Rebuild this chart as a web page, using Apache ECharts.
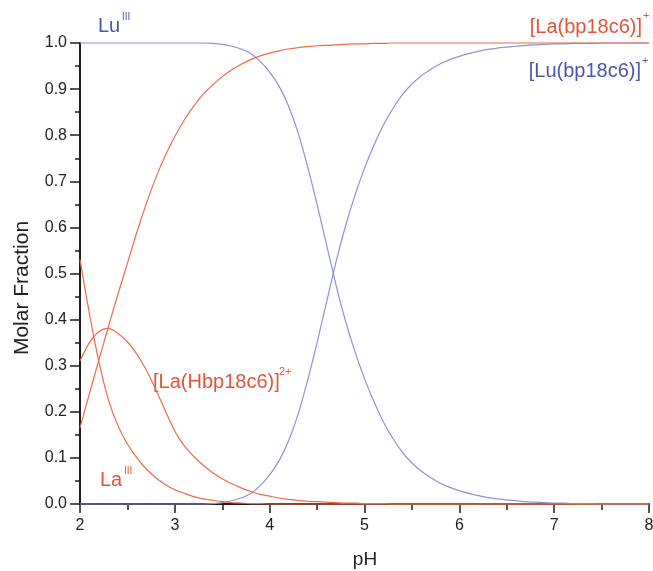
<!DOCTYPE html>
<html>
<head>
<meta charset="utf-8">
<script src="https://cdn.jsdelivr.net/npm/echarts@6/dist/echarts.min.js"></script>
<style>
  html, body { margin: 0; padding: 0; background: #fff; }
  #container { width: 653px; height: 571px; }
</style>
</head>
<body>
<div id="container"></div>
<script>
// pH grid, 0.1 steps
const ph = [2.0, 2.1, 2.2, 2.3, 2.4, 2.5, 2.6, 2.7, 2.8, 2.9,
  3.0, 3.1, 3.2, 3.3, 3.4, 3.5, 3.6, 3.7, 3.8, 3.9,
  4.0, 4.1, 4.2, 4.3, 4.4, 4.5, 4.6, 4.7, 4.8, 4.9,
  5.0, 5.1, 5.2, 5.3, 5.4, 5.5, 5.6, 5.7, 5.8, 5.9,
  6.0, 6.1, 6.2, 6.3, 6.4, 6.5, 6.6, 6.7, 6.8, 6.9,
  7.0, 7.1, 7.2, 7.3, 7.4, 7.5, 7.6, 7.7, 7.8, 7.9, 8.0]

// molar fractions
const luFree = [1, 1, 1, 1, 1, 1, 1, 1, 1, 1,
  1, 1, 1, 1, 0.999, 0.997, 0.993, 0.987, 0.977, 0.960,
  0.937, 0.906, 0.863, 0.805, 0.732, 0.650, 0.562, 0.475, 0.397, 0.330,
  0.272, 0.222, 0.178, 0.142, 0.112, 0.089, 0.071, 0.057, 0.045, 0.036,
  0.029, 0.023, 0.018, 0.014, 0.011, 0.009, 0.007, 0.005, 0.004, 0.003,
  0.002, 0.002, 0.001, 0.001, 0.001, 0, 0, 0, 0, 0, 0]

const luComplex = [0, 0, 0, 0, 0, 0, 0, 0, 0, 0,
  0, 0, 0, 0, 0.001, 0.003, 0.007, 0.013, 0.023, 0.040,
  0.063, 0.094, 0.137, 0.195, 0.268, 0.350, 0.438, 0.525, 0.603, 0.670,
  0.728, 0.778, 0.822, 0.858, 0.888, 0.911, 0.929, 0.943, 0.955, 0.964,
  0.971, 0.977, 0.982, 0.986, 0.989, 0.991, 0.993, 0.995, 0.996, 0.997,
  0.998, 0.998, 0.999, 0.999, 0.999, 1, 1, 1, 1, 1, 1]

const laFree = [0.530, 0.412, 0.308, 0.226, 0.170, 0.130, 0.100, 0.076, 0.057, 0.042,
  0.031, 0.023, 0.016, 0.011, 0.008, 0.005, 0.003, 0.002, 0.001, 0.001,
  0, 0, 0, 0, 0, 0, 0, 0, 0, 0,
  0, 0, 0, 0, 0, 0, 0, 0, 0, 0,
  0, 0, 0, 0, 0, 0, 0, 0, 0, 0,
  0, 0, 0, 0, 0, 0, 0, 0, 0, 0, 0]

const laProtonated = [0.310, 0.350, 0.374, 0.381, 0.370, 0.352, 0.325, 0.290, 0.248, 0.202,
  0.158, 0.126, 0.103, 0.084, 0.068, 0.055, 0.044, 0.035, 0.027, 0.021,
  0.017, 0.013, 0.010, 0.008, 0.006, 0.005, 0.004, 0.003, 0.002, 0.002,
  0.001, 0.001, 0.001, 0, 0, 0, 0, 0, 0, 0,
  0, 0, 0, 0, 0, 0, 0, 0, 0, 0,
  0, 0, 0, 0, 0, 0, 0, 0, 0, 0, 0]

const laComplex = [0.165, 0.240, 0.313, 0.385, 0.455, 0.522, 0.590, 0.652, 0.708, 0.756,
  0.797, 0.833, 0.863, 0.889, 0.909, 0.927, 0.942, 0.954, 0.964, 0.972,
  0.978, 0.983, 0.987, 0.990, 0.992, 0.994, 0.995, 0.996, 0.997, 0.998,
  0.998, 0.999, 0.999, 1, 1, 1, 1, 1, 1, 1,
  1, 1, 1, 1, 1, 1, 1, 1, 1, 1,
  1, 1, 1, 1, 1, 1, 1, 1, 1, 1, 1]

const RED = '#f06a4a'
const BLUE = '#8e92d6'
const RED_TXT = '#e2553a'
const BLUE_TXT = '#4c56a8'
const FONT = '"Liberation Sans", Arial, sans-serif'

const pairs = ys => ph.map((x, i) => [x, ys[i]])

const curve = (name, ys, color) => ({
  name: name,
  type: 'line',
  data: pairs(ys),
  showSymbol: false,
  smooth: 0.3,
  clip: false,
  lineStyle: { color: color, width: 1.2 },
  silent: true
})

const label = (text, x, y, size, color, align) => ({
  type: 'text',
  silent: true,
  style: {
    text: text,
    x: x,
    y: y,
    fill: color,
    font: size + 'px ' + FONT,
    align: align || 'left',
    verticalAlign: 'middle'
  }
})

const axisColor = '#1e1e1e'

let options = {
  backgroundColor: '#fff',
  animation: false,
  grid: {
    left: 80,
    right: 4,
    top: 43,
    bottom: 67,
    containLabel: false,
    outerBoundsMode: 'none'
  },
  xAxis: {
    type: 'value',
    min: 2,
    max: 8,
    interval: 1,
    axisLine: { show: true, lineStyle: { color: axisColor, width: 2 } },
    axisTick: { show: true, length: 9, lineStyle: { color: axisColor, width: 1.5 } },
    minorTick: { show: true, splitNumber: 2, length: 6, lineStyle: { color: axisColor, width: 1.5 } },
    splitLine: { show: false },
    axisLabel: { color: '#222', fontSize: 16, fontFamily: FONT, margin: 14 }
  },
  yAxis: {
    type: 'value',
    min: 0,
    max: 1,
    interval: 0.1,
    axisLine: { show: true, lineStyle: { color: axisColor, width: 2 } },
    axisTick: { show: true, length: 10, lineStyle: { color: axisColor, width: 1.5 } },
    minorTick: { show: true, splitNumber: 2, length: 5, lineStyle: { color: axisColor, width: 1.5 } },
    splitLine: { show: false },
    axisLabel: {
      color: '#222',
      fontSize: 16,
      fontFamily: FONT,
      margin: 13,
      formatter: v => v.toFixed(1)
    }
  },
  graphic: {
    elements: [
      label('Lu', 98, 26.5, 20, BLUE_TXT),
      label('III', 122, 17, 10, BLUE_TXT),
      label('[La(bp18c6)]', 642, 27, 20, RED_TXT, 'right'),
      label('+', 643, 16, 11, RED_TXT),
      label('[Lu(bp18c6)]', 641, 71, 20, BLUE_TXT, 'right'),
      label('+', 642, 61, 11, BLUE_TXT),
      label('[La(Hbp18c6)]', 153, 382, 20, RED_TXT),
      label('2+', 279, 372, 11, RED_TXT),
      label('La', 100, 480.5, 20, RED_TXT),
      label('III', 124, 471, 10, RED_TXT),
      {
        type: 'text',
        silent: true,
        x: 22,
        y: 288,
        rotation: Math.PI / 2,
        style: {
          text: 'Molar Fraction',
          fill: '#222',
          font: '21px ' + FONT,
          align: 'center',
          verticalAlign: 'middle'
        }
      },
      label('pH', 365, 560, 19, '#222', 'center')
    ]
  },
  series: [
    curve('LuIII', luFree, BLUE),
    curve('[Lu(bp18c6)]+', luComplex, BLUE),
    curve('LaIII', laFree, RED),
    curve('[La(Hbp18c6)]2+', laProtonated, RED),
    curve('[La(bp18c6)]+', laComplex, RED)
  ]
}

let mychart = echarts.init(document.getElementById('container'), null, { renderer: 'canvas' })
mychart.setOption(options)
window.addEventListener('resize', () => { mychart.resize() })
</script>
</body>
</html>
